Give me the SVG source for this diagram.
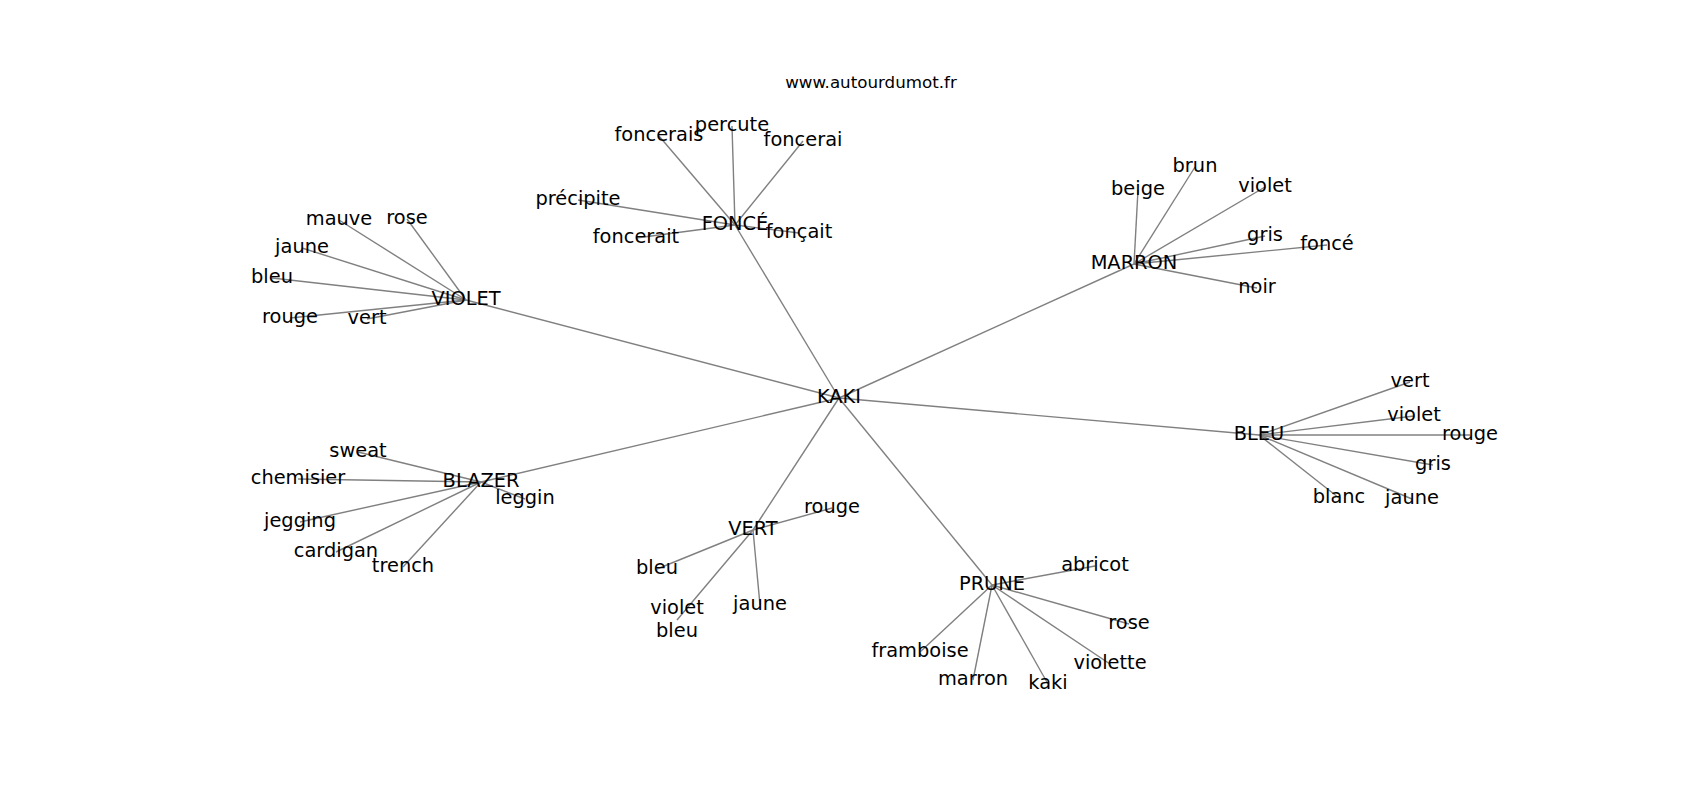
<svg xmlns="http://www.w3.org/2000/svg" width="1700" height="800" viewBox="0 0 1700 800">
<style>
.e{stroke:#808080;stroke-width:1.4;fill:none}
.t{font-family:"DejaVu Sans",sans-serif;font-size:19.4px;fill:#000;text-anchor:middle}
.title{font-family:"DejaVu Sans",sans-serif;font-size:16.7px;fill:#000;text-anchor:middle}
</style>
<rect width="1700" height="800" fill="#fff"/>
<text class="title" x="871" y="88">www.autourdumot.fr</text>
<g id="edges">
<line class="e" x1="839" y1="398" x2="735" y2="225"/>
<line class="e" x1="839" y1="398" x2="1134" y2="264"/>
<line class="e" x1="839" y1="398" x2="466" y2="300"/>
<line class="e" x1="839" y1="398" x2="481" y2="482"/>
<line class="e" x1="839" y1="398" x2="753" y2="530"/>
<line class="e" x1="839" y1="398" x2="992" y2="585"/>
<line class="e" x1="839" y1="398" x2="1259" y2="435"/>
<line class="e" x1="735" y1="225" x2="659" y2="136"/>
<line class="e" x1="735" y1="225" x2="732" y2="126"/>
<line class="e" x1="735" y1="225" x2="803" y2="141"/>
<line class="e" x1="735" y1="225" x2="578" y2="200"/>
<line class="e" x1="735" y1="225" x2="636" y2="238"/>
<line class="e" x1="735" y1="225" x2="799" y2="233"/>
<line class="e" x1="466" y1="300" x2="339" y2="220"/>
<line class="e" x1="466" y1="300" x2="407" y2="219"/>
<line class="e" x1="466" y1="300" x2="302" y2="248"/>
<line class="e" x1="466" y1="300" x2="272" y2="278"/>
<line class="e" x1="466" y1="300" x2="290" y2="318"/>
<line class="e" x1="466" y1="300" x2="367" y2="319"/>
<line class="e" x1="1134" y1="264" x2="1195" y2="167"/>
<line class="e" x1="1134" y1="264" x2="1138" y2="190"/>
<line class="e" x1="1134" y1="264" x2="1265" y2="187"/>
<line class="e" x1="1134" y1="264" x2="1265" y2="236"/>
<line class="e" x1="1134" y1="264" x2="1327" y2="245"/>
<line class="e" x1="1134" y1="264" x2="1257" y2="288"/>
<line class="e" x1="1259" y1="435" x2="1410" y2="382"/>
<line class="e" x1="1259" y1="435" x2="1414" y2="416"/>
<line class="e" x1="1259" y1="435" x2="1470" y2="435"/>
<line class="e" x1="1259" y1="435" x2="1433" y2="465"/>
<line class="e" x1="1259" y1="435" x2="1339" y2="498"/>
<line class="e" x1="1259" y1="435" x2="1412" y2="499"/>
<line class="e" x1="481" y1="482" x2="358" y2="452"/>
<line class="e" x1="481" y1="482" x2="298" y2="479"/>
<line class="e" x1="481" y1="482" x2="525" y2="499"/>
<line class="e" x1="481" y1="482" x2="300" y2="522"/>
<line class="e" x1="481" y1="482" x2="336" y2="552"/>
<line class="e" x1="481" y1="482" x2="403" y2="567"/>
<line class="e" x1="753" y1="530" x2="832" y2="508"/>
<line class="e" x1="753" y1="530" x2="657" y2="569"/>
<line class="e" x1="753" y1="530" x2="677" y2="620"/>
<line class="e" x1="753" y1="530" x2="760" y2="605"/>
<line class="e" x1="992" y1="585" x2="1095" y2="566"/>
<line class="e" x1="992" y1="585" x2="1129" y2="624"/>
<line class="e" x1="992" y1="585" x2="920" y2="652"/>
<line class="e" x1="992" y1="585" x2="973" y2="680"/>
<line class="e" x1="992" y1="585" x2="1048" y2="684"/>
<line class="e" x1="992" y1="585" x2="1110" y2="664"/>
</g>
<g id="n-kaki"><text class="t" x="839" y="403">KAKI</text></g>
<g id="n-fonce"><text class="t" x="735" y="230">FONCÉ</text></g>
<g id="n-foncerais"><text class="t" x="659" y="141">foncerais</text></g>
<g id="n-percute"><text class="t" x="732" y="131">percute</text></g>
<g id="n-foncerai"><text class="t" x="803" y="146">foncerai</text></g>
<g id="n-precipite"><text class="t" x="578" y="205">précipite</text></g>
<g id="n-foncerait"><text class="t" x="636" y="243">foncerait</text></g>
<g id="n-foncait"><text class="t" x="799" y="238">fonçait</text></g>
<g id="n-violet"><text class="t" x="466" y="305">VIOLET</text></g>
<g id="n-violet-mauve"><text class="t" x="339" y="225">mauve</text></g>
<g id="n-violet-rose"><text class="t" x="407" y="224">rose</text></g>
<g id="n-violet-jaune"><text class="t" x="302" y="253">jaune</text></g>
<g id="n-violet-bleu"><text class="t" x="272" y="283">bleu</text></g>
<g id="n-violet-rouge"><text class="t" x="290" y="323">rouge</text></g>
<g id="n-violet-vert"><text class="t" x="367" y="324">vert</text></g>
<g id="n-marron"><text class="t" x="1134" y="269">MARRON</text></g>
<g id="n-marron-brun"><text class="t" x="1195" y="172">brun</text></g>
<g id="n-marron-beige"><text class="t" x="1138" y="195">beige</text></g>
<g id="n-marron-violet"><text class="t" x="1265" y="192">violet</text></g>
<g id="n-marron-gris"><text class="t" x="1265" y="241">gris</text></g>
<g id="n-marron-fonce"><text class="t" x="1327" y="250">foncé</text></g>
<g id="n-marron-noir"><text class="t" x="1257" y="293">noir</text></g>
<g id="n-bleu"><text class="t" x="1259" y="440">BLEU</text></g>
<g id="n-bleu-vert"><text class="t" x="1410" y="387">vert</text></g>
<g id="n-bleu-violet"><text class="t" x="1414" y="421">violet</text></g>
<g id="n-bleu-rouge"><text class="t" x="1470" y="440">rouge</text></g>
<g id="n-bleu-gris"><text class="t" x="1433" y="470">gris</text></g>
<g id="n-bleu-blanc"><text class="t" x="1339" y="503">blanc</text></g>
<g id="n-bleu-jaune"><text class="t" x="1412" y="504">jaune</text></g>
<g id="n-blazer"><text class="t" x="481" y="487">BLAZER</text></g>
<g id="n-blazer-sweat"><text class="t" x="358" y="457">sweat</text></g>
<g id="n-blazer-chemisier"><text class="t" x="298" y="484">chemisier</text></g>
<g id="n-blazer-leggin"><text class="t" x="525" y="504">leggin</text></g>
<g id="n-blazer-jegging"><text class="t" x="300" y="527">jegging</text></g>
<g id="n-blazer-cardigan"><text class="t" x="336" y="557">cardigan</text></g>
<g id="n-blazer-trench"><text class="t" x="403" y="572">trench</text></g>
<g id="n-vert"><text class="t" x="753" y="535">VERT</text></g>
<g id="n-vert-rouge"><text class="t" x="832" y="513">rouge</text></g>
<g id="n-vert-bleu"><text class="t" x="657" y="574">bleu</text></g>
<g id="n-vert-violetbleu"><text class="t" x="677" y="614"><tspan x="677" y="614">violet</tspan><tspan x="677" y="637">bleu</tspan></text></g>
<g id="n-vert-jaune"><text class="t" x="760" y="610">jaune</text></g>
<g id="n-prune"><text class="t" x="992" y="590">PRUNE</text></g>
<g id="n-prune-abricot"><text class="t" x="1095" y="571">abricot</text></g>
<g id="n-prune-rose"><text class="t" x="1129" y="629">rose</text></g>
<g id="n-prune-framboise"><text class="t" x="920" y="657">framboise</text></g>
<g id="n-prune-marron"><text class="t" x="973" y="685">marron</text></g>
<g id="n-prune-kaki"><text class="t" x="1048" y="689">kaki</text></g>
<g id="n-prune-violette"><text class="t" x="1110" y="669">violette</text></g>
</svg>
